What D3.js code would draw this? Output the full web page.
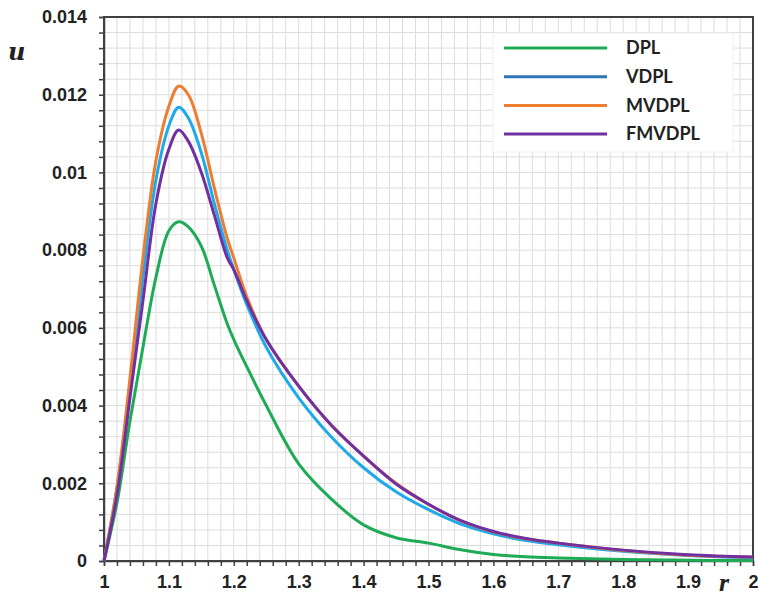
<!DOCTYPE html>
<html>
<head>
<meta charset="utf-8">
<script src="https://cdn.jsdelivr.net/npm/d3@7"></script>
<style>
  body { margin: 0; background: #fff; }
  svg { display: block; font-family: Lato, "Open Sans", sans-serif; }
</style>
</head>
<body>
<div id="chart"></div>
<script>
// r values shared by every curve
const rValues = [1, 1.02, 1.04, 1.06, 1.08, 1.10, 1.115, 1.13, 1.15, 1.17, 1.19, 1.2, 1.22, 1.25,
                 1.3, 1.35, 1.4, 1.45, 1.5, 1.55, 1.6, 1.65, 1.7, 1.8, 1.9, 2.0];

const dpl    = [0, 0.0015, 0.0036, 0.0055, 0.0073, 0.0085, 0.00873, 0.0086, 0.0081, 0.0071, 0.0061, 0.0057, 0.0050, 0.0040,
                0.0025, 0.0016, 0.00093, 0.0006, 0.00046, 0.00029, 0.00017, 0.00011, 0.00008, 0.00004, 0.00002, 0.00001];
const vdpl   = [0, 0.0019, 0.0045, 0.0073, 0.0098, 0.0112, 0.01168, 0.0114, 0.0105, 0.0092, 0.0080, 0.0075, 0.0066, 0.0055,
                0.0042, 0.0032, 0.0024, 0.00178, 0.00132, 0.00095, 0.00070, 0.00053, 0.00042, 0.00025, 0.00014, 0.00008];
const mvdpl  = [0, 0.0019, 0.0047, 0.0078, 0.0103, 0.0117, 0.01222, 0.0120, 0.0110, 0.0096, 0.0083, 0.0078, 0.0068, 0.0057,
                0.0045, 0.0035, 0.0027, 0.0020, 0.00146, 0.00103, 0.00075, 0.00057, 0.00046, 0.00027, 0.00015, 0.0001];
const fmvdpl = [0, 0.0017, 0.0042, 0.0067, 0.0092, 0.0106, 0.01109, 0.0108, 0.0100, 0.0089, 0.0078, 0.0075, 0.0067, 0.0057,
                0.0045, 0.0035, 0.0027, 0.00198, 0.00146, 0.00104, 0.00076, 0.00058, 0.00046, 0.00028, 0.00016, 0.0001];

const seriesNames = ["DPL", "VDPL", "MVDPL", "FMVDPL"];
const seriesValues = [dpl, vdpl, mvdpl, fmvdpl];
const lineColors = ["#1fab55", "#1eaaea", "#ed7d31", "#7030a0"];
const legendColors = ["#1fab55", "#2e75b6", "#ed7d31", "#7030a0"];

const xTicks = [1, 1.1, 1.2, 1.3, 1.4, 1.5, 1.6, 1.7, 1.8, 1.9, 2];
const yTicks = [0, 0.002, 0.004, 0.006, 0.008, 0.01, 0.012, 0.014];

const margin = { top: 17, right: 7, bottom: 39, left: 104 },
    width = 760 - margin.left - margin.right,
    height = 600 - margin.top - margin.bottom;

const svg = d3.select("#chart")
    .append("svg")
    .attr("width", 760)
    .attr("height", 600)
    .append("g")
    .attr("transform", "translate(" + margin.left + "," + margin.top + ")");

const x = d3.scaleLinear().domain([1, 2]).range([0, width]);
const y = d3.scaleLinear().domain([0, 0.014]).range([height, 0]);

// minor grid: every 0.02 in r, every 0.0004 in u
const xMinor = d3.range(0, 51).map(i => 1 + i * 0.02);
const yMinor = d3.range(0, 36).map(i => i * 0.0004);

svg.append("g")
    .selectAll("line.vx")
    .data(xMinor)
    .enter().append("line")
    .attr("x1", d => x(d)).attr("x2", d => x(d))
    .attr("y1", 0).attr("y2", height)
    .attr("stroke", "#dcdcdc").attr("stroke-width", 1);

svg.append("g")
    .selectAll("line.hy")
    .data(yMinor)
    .enter().append("line")
    .attr("x1", 0).attr("x2", width)
    .attr("y1", d => y(d)).attr("y2", d => y(d))
    .attr("stroke", "#dcdcdc").attr("stroke-width", 1);

// axes
svg.append("g")
    .attr("transform", "translate(0," + height + ")")
    .call(d3.axisBottom(x).tickValues(xMinor).tickSize(5).tickFormat(""));
svg.append("g")
    .attr("transform", "translate(0," + height + ")")
    .call(d3.axisBottom(x).tickValues(xTicks).tickSize(0).tickPadding(14).tickFormat(d3.format("")))
    .call(g => g.select(".domain").remove())
    .selectAll("text")
    .style("font-size", "18px").style("font-weight", "bold").attr("fill", "#222");

svg.append("g")
    .call(d3.axisLeft(y).tickValues(yMinor).tickSize(5).tickFormat(""));
svg.append("g")
    .call(d3.axisLeft(y).tickValues(yTicks).tickSize(0).tickPadding(17).tickFormat(d3.format("")))
    .call(g => g.select(".domain").remove())
    .selectAll("text")
    .style("font-size", "18px").style("font-weight", "bold").attr("fill", "#222");

svg.selectAll(".domain, .tick line").attr("stroke", "#404040").attr("stroke-width", 1.5);

// frame
svg.append("rect")
    .attr("width", width).attr("height", height)
    .attr("fill", "none").attr("stroke", "#404040").attr("stroke-width", 2);

// curves
const line = d3.line()
    .x(d => x(d[0]))
    .y(d => y(d[1]))
    .curve(d3.curveCatmullRom.alpha(0.5));

seriesValues.forEach((vals, i) => {
    svg.append("path")
        .datum(rValues.map((r, j) => [r, vals[j]]))
        .attr("fill", "none")
        .attr("stroke", lineColors[i])
        .attr("stroke-width", 3)
        .attr("stroke-linejoin", "round")
        .attr("d", line);
});

// legend
const legend = svg.append("g").attr("transform", "translate(" + (493 - margin.left) + "," + (33 - margin.top) + ")");
legend.append("rect")
    .attr("width", 240).attr("height", 119)
    .attr("fill", "#fff").attr("stroke", "#f0f0f0");
seriesNames.forEach((name, i) => {
    const ly = 15 + i * 28.7;
    legend.append("line")
        .attr("x1", 11).attr("x2", 114)
        .attr("y1", ly).attr("y2", ly)
        .attr("stroke", legendColors[i]).attr("stroke-width", 3);
    legend.append("text")
        .attr("x", 133).attr("y", ly)
        .attr("dy", "0.35em")
        .style("font-size", "18px").style("font-weight", "bold")
        .attr("fill", "#222")
        .text(name);
});

// axis letters
svg.append("text")
    .attr("x", 8 - margin.left).attr("y", 60 - margin.top)
    .style("font-family", "'DejaVu Serif', 'Liberation Serif', serif")
    .style("font-style", "italic").style("font-weight", "bold")
    .style("font-size", "24px").attr("fill", "#222")
    .text("u");
svg.append("text")
    .attr("x", 719 - margin.left).attr("y", 591 - margin.top)
    .style("font-family", "'Liberation Serif', serif")
    .style("font-style", "italic").style("font-weight", "bold")
    .style("font-size", "26px").attr("fill", "#222")
    .text("r");
</script>
</body>
</html>
